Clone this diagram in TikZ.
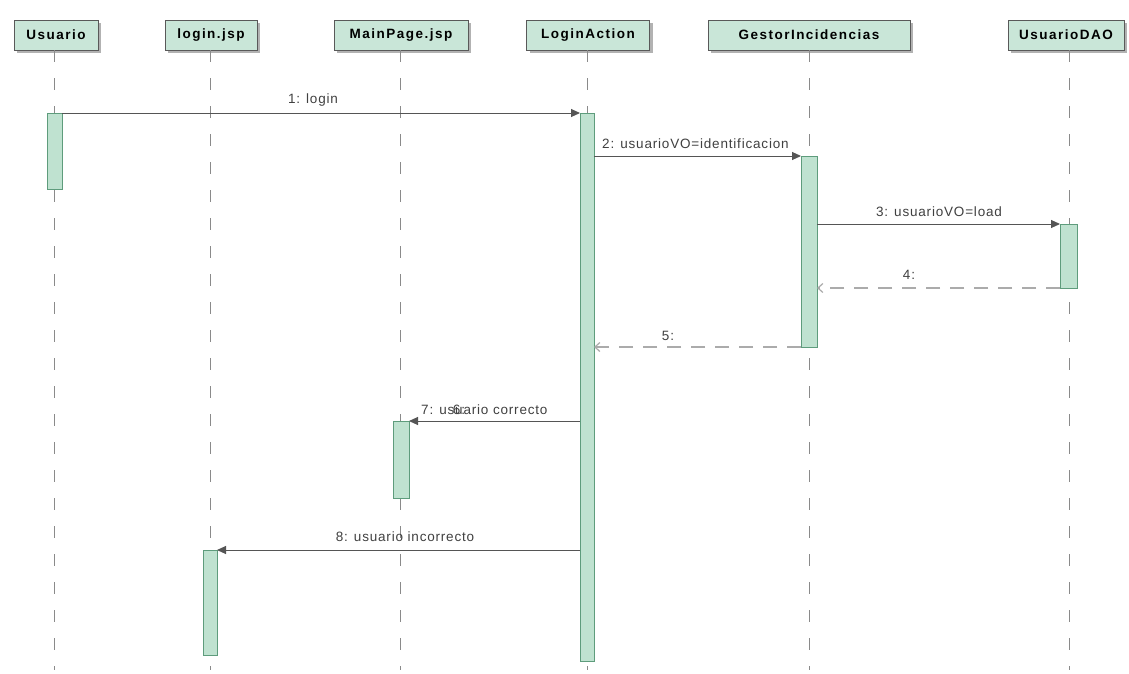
\documentclass[tikz,border=0pt]{standalone}
\usepackage{fontspec}
\setmainfont{Liberation Sans}
\newfontfamily\hdrfont[LetterSpace=11]{Liberation Sans}
\newfontfamily\lblfont[LetterSpace=6]{Liberation Sans}
\usetikzlibrary{arrows.meta}
\definecolor{hdrfill}{HTML}{C9E6D8}
\definecolor{actfill}{HTML}{BFE2D0}
\definecolor{actdraw}{HTML}{5E9C7C}
\definecolor{lifegray}{HTML}{8A8A8A}
\definecolor{msggray}{HTML}{555555}
\definecolor{retgray}{HTML}{ABABAB}
\begin{document}
\begin{tikzpicture}[x=1pt,y=-1pt,
  hdr/.style={draw=black!65, fill=hdrfill, line width=0.8pt, minimum height=30pt,
    inner sep=0pt, font=\hdrfont\fontsize{13.5}{15}\selectfont\bfseries},
  act/.style={draw=actdraw, fill=actfill, line width=0.8pt},
  life/.style={draw=lifegray, line width=0.9pt, dash pattern=on 12pt off 16pt},
  msg/.style={draw=msggray, line width=1pt, -{Triangle[length=9pt,width=8pt]}},
  ret/.style={draw=retgray, line width=2pt, dash pattern=on 14pt off 10pt,
    -{Straight Barb[length=5pt,width=9pt,line width=1.2pt]}},
  lbl/.style={font=\lblfont\fontsize{13.5}{15}\selectfont, text=black!75, inner sep=0pt}]
\useasboundingbox (0,0) rectangle (1129,673);
\fill[white] (0,0) rectangle (1129,673);

% participant headers with shadows
\foreach \l/\r in {14/98,165/257,334/468,527/650,708/910,1008/1124}{
  \fill[black!30] (\l+3,23) rectangle (\r+3,53);}
\node[hdr, minimum width=84pt]  (usuario) at (56,35)   {Usuario};
\node[hdr, minimum width=92pt]  (loginjsp) at (211,35) {login.jsp};
\node[hdr, minimum width=134pt] (mainpage) at (401,35) {MainPage.jsp};
\node[hdr, minimum width=123pt] (loginaction) at (588,35) {LoginAction};
\node[hdr, minimum width=202pt] (gestor) at (809,35) {GestorIncidencias};
\node[hdr, minimum width=116pt] (dao) at (1066,35) {UsuarioDAO};

% lifelines
\coordinate (uE) at (54,670);
\coordinate (lE) at (210,670);
\coordinate (mE) at (400,670);
\coordinate (aE) at (587,670);
\coordinate (gE) at (809,670);
\coordinate (dE) at (1069,670);
\draw[life] (54,50) -- (uE);
\draw[life] (210,50) -- (lE);
\draw[life] (400,50) -- (mE);
\draw[life] (587,50) -- (aE);
\draw[life] (809,50) -- (gE);
\draw[life] (1069,50) -- (dE);

% activation bars
\draw[act] (47,113) rectangle (62,189);
\draw[act] (580,113) rectangle (594,661);
\draw[act] (801,156) rectangle (817,347);
\draw[act] (1060,224) rectangle (1077,288);
\draw[act] (393,421) rectangle (409,498);
\draw[act] (203,550) rectangle (217,655);

% activation anchor points
\coordinate (u1) at (62,113);   \coordinate (a1) at (580,113);
\coordinate (a2) at (594,156);  \coordinate (g2) at (801,156);
\coordinate (g3) at (817,224);  \coordinate (d3) at (1060,224);
\coordinate (d4) at (1060,288); \coordinate (g4) at (817,288);
\coordinate (g5) at (801,347);  \coordinate (a5) at (594,347);
\coordinate (a7) at (580,421);  \coordinate (m7) at (409,421);
\coordinate (a8) at (580,550);  \coordinate (l8) at (217,550);

% messages
\draw[msg] (u1) -- (a1);
\node[lbl] (t1) at (313,100) {1: login};
\draw[msg] (a2) -- (g2);
\node[lbl, anchor=west] (t2) at (602,144) {2: usuarioVO=identificacion};
\draw[msg] (g3) -- (d3);
\node[lbl] (t3) at (939,212) {3: usuarioVO=load};
\draw[ret] (d4) -- (g4);
\node[lbl] (t4) at (909,275) {4:};
\draw[ret] (g5) -- (a5);
\node[lbl] (t5) at (668,336) {5:};
\draw[msg] (a7) -- (m7);
\node[lbl, anchor=west] (t7) at (421,410) {7: usuario correcto};
\node[lbl] (t6) at (459,410) {6:};
\draw[msg] (a8) -- (l8);
\node[lbl] (t8) at (405,537) {8: usuario incorrecto};
\end{tikzpicture}
\end{document}
